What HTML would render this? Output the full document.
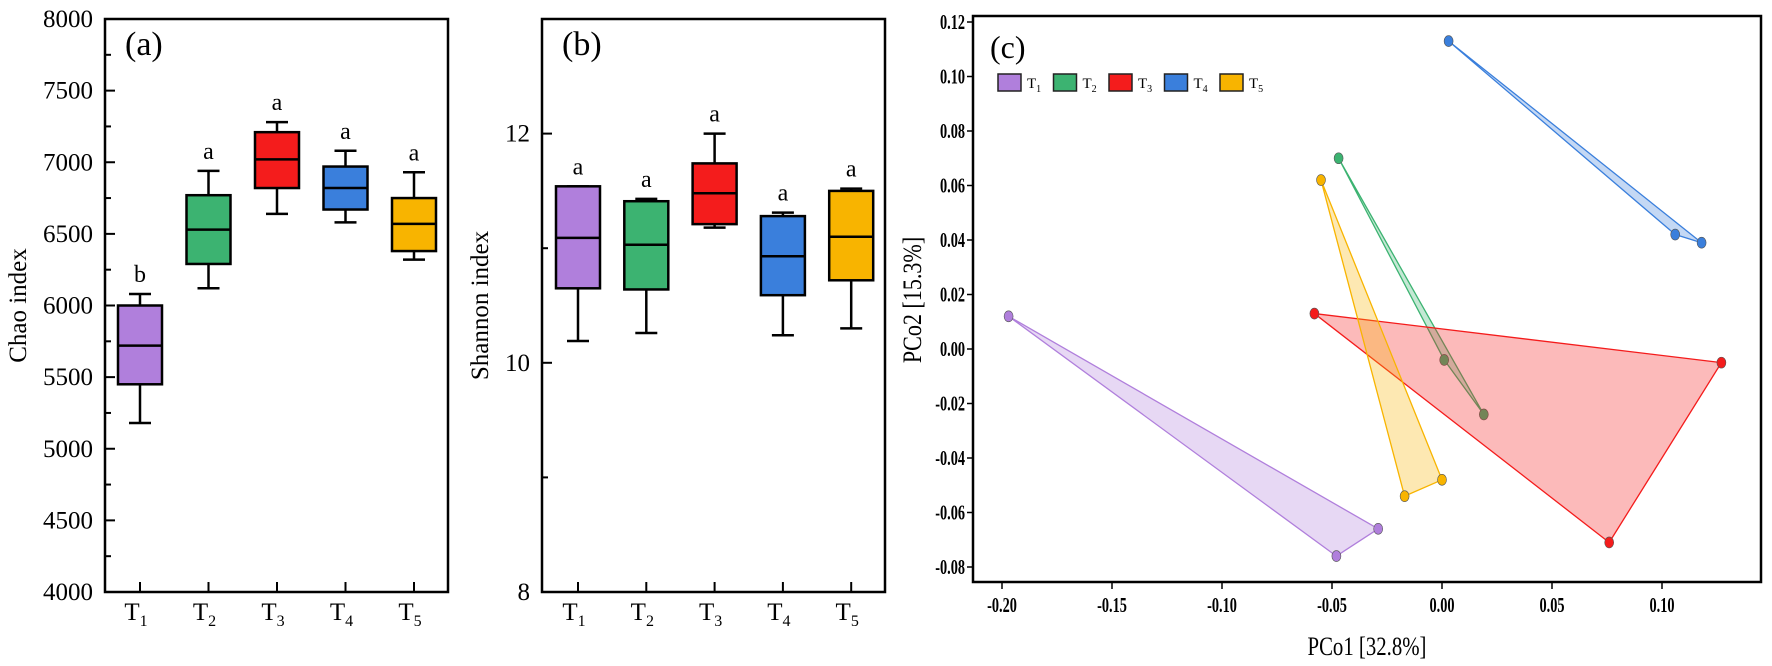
<!DOCTYPE html>
<html><head><meta charset="utf-8"><style>
body{margin:0;background:#fff;}
svg{display:block;font-family:"Liberation Serif",serif;}
</style></head><body>
<svg id="fig" width="1772" height="666" viewBox="0 0 1772 666" xmlns="http://www.w3.org/2000/svg"></svg>
<script>
const groups = ['T1','T2','T3','T4','T5'];
const colors = ['#b07fdc','#3cb371','#f41c1c','#3a7fdc','#f8b400'];
// Panel (a) Chao: [lowWhisker, q1, median, q3, highWhisker]
const chaoLow = [5180,6120,6640,6580,6320];
const chaoQ1 = [5450,6290,6820,6670,6380];
const chaoMed = [5720,6530,7020,6820,6570];
const chaoQ3 = [6000,6770,7210,6970,6750];
const chaoHigh = [6080,6940,7280,7080,6930];
const chaoLetters = ['b','a','a','a','a'];
const chaoTicks = [4000,4500,5000,5500,6000,6500,7000,7500,8000];
// Panel (b) Shannon
const shLow = [10.19,10.26,11.18,10.24,10.30];
const shQ1 = [10.65,10.64,11.21,10.59,10.72];
const shMed = [11.09,11.03,11.48,10.93,11.10];
const shQ3 = [11.54,11.41,11.74,11.28,11.50];
const shHigh = [11.54,11.43,12.00,11.31,11.52];
const shLetters = ['a','a','a','a','a'];
const shTicks = [8,10,12];
// Panel (c) PCoA points per group
const pcoX = [[-0.197,-0.029,-0.048],[-0.047,0.001,0.019],[-0.058,0.127,0.076],[0.003,0.106,0.118],[-0.055,-0.017,0.000]];
const pcoY = [[0.012,-0.066,-0.076],[0.070,-0.004,-0.024],[0.013,-0.005,-0.071],[0.113,0.042,0.039],[0.062,-0.054,-0.048]];
const pcXTicks = [-0.20,-0.15,-0.10,-0.05,0.00,0.05,0.10];
const pcXTickLabels = ['-0.20','-0.15','-0.10','-0.05','0.00','0.05','0.10'];
const pcYTicks = [-0.08,-0.06,-0.04,-0.02,0.00,0.02,0.04,0.06,0.08,0.10,0.12];
const pcYTickLabels = ['-0.08','-0.06','-0.04','-0.02','0.00','0.02','0.04','0.06','0.08','0.10','0.12'];

const NS='http://www.w3.org/2000/svg';
const svg=document.getElementById('fig');
function el(tag,attrs,parent,text){const e=document.createElementNS(NS,tag);for(const k in attrs)e.setAttribute(k,attrs[k]);if(text!==undefined)e.textContent=text;(parent||svg).appendChild(e);return e;}

function boxPanel(o){
  const g=el('g',{});
  
  
  const y=v=>o.y1+(o.vmax-v)/(o.vmax-o.vmin)*(o.y2-o.y1);
  const x=i=>o.cx0+i*o.step;
  const fr=el('rect',{x:o.x1,y:o.y1,width:o.x2-o.x1,height:o.y2-o.y1,fill:'none',stroke:'#000','stroke-width':2.5},g);
  
  
  o.ticks.forEach(t=>{
    el('line',{x1:o.x1,x2:o.x1+10,y1:y(t),y2:y(t),stroke:'#000','stroke-width':2},g);
    const tl=el('text',{x:o.x1-12,y:y(t)+8,'text-anchor':'end','font-size':25},g,String(t));
    
    
  });
  o.minor.forEach(t=>{el('line',{x1:o.x1,x2:o.x1+6,y1:y(t),y2:y(t),stroke:'#000','stroke-width':2},g);});
  groups.forEach((gname,i)=>{
    el('line',{x1:x(i),x2:x(i),y1:o.y2,y2:o.y2-10,stroke:'#000','stroke-width':2},g);
    const tl=el('text',{x:x(i)-4,y:o.y2+28,'text-anchor':'middle','font-size':25},g);
    
    
    el('tspan',{},tl,'T');
    el('tspan',{'font-size':16,dy:6},tl,gname.slice(1));
  });
  const hw=22;
  for(let i=0;i<groups.length;i++){
    const bg=el('g',{},g);
    
    
    const cx=x(i);
    el('line',{x1:cx,x2:cx,y1:y(o.low[i]),y2:y(o.q1[i]),stroke:'#000','stroke-width':2.5},bg);
    el('line',{x1:cx,x2:cx,y1:y(o.high[i]),y2:y(o.q3[i]),stroke:'#000','stroke-width':2.5},bg);
    el('line',{x1:cx-11,x2:cx+11,y1:y(o.low[i]),y2:y(o.low[i]),stroke:'#000','stroke-width':2.5},bg);
    el('line',{x1:cx-11,x2:cx+11,y1:y(o.high[i]),y2:y(o.high[i]),stroke:'#000','stroke-width':2.5},bg);
    el('rect',{x:cx-hw,y:y(o.q3[i]),width:hw*2,height:y(o.q1[i])-y(o.q3[i]),fill:colors[i],stroke:'#000','stroke-width':2.5},bg);
    el('line',{x1:cx-hw,x2:cx+hw,y1:y(o.med[i]),y2:y(o.med[i]),stroke:'#000','stroke-width':2.5},bg);
    const lt=el('text',{x:cx,y:y(o.high[i])-12,'text-anchor':'middle','font-size':24},bg,o.letters[i]);
    
    
  }
  const pl=el('text',{x:o.x1+20,y:o.y1+36,'font-size':34},g,o.label);
  
  
  const yt=el('text',{transform:`translate(${o.ytx},${(o.y1+o.y2)/2}) rotate(-90)`,'text-anchor':'middle','font-size':25},g,o.ytitle);
  
  
}

boxPanel({name:'chao-boxplot',x1:105,x2:448,y1:19,y2:592,vmin:4000,vmax:8000,cx0:140,step:68.5,
  ticks:chaoTicks,minor:[4250,4750,5250,5750,6250,6750,7250,7750],
  low:chaoLow,q1:chaoQ1,med:chaoMed,q3:chaoQ3,high:chaoHigh,letters:chaoLetters,label:'(a)',ytitle:'Chao index',ytx:26});
boxPanel({name:'shannon-boxplot',x1:542,x2:885,y1:19,y2:592,vmin:8,vmax:13,cx0:578,step:68.3,
  ticks:shTicks,minor:[9,11,13],
  low:shLow,q1:shQ1,med:shMed,q3:shQ3,high:shHigh,letters:shLetters,label:'(b)',ytitle:'Shannon index',ytx:488});

(function(){
  const g=el('g',{});
  
  
  const X1=973,X2=1761,Y1=16,Y2=582;
  const sx=v=>1442+v*2200;
  const sy=v=>349-v*2725;
  const fr=el('rect',{x:X1,y:Y1,width:X2-X1,height:Y2-Y1,fill:'none',stroke:'#000','stroke-width':2.5},g);
  
  
  pcXTicks.forEach((t,i)=>{
    el('line',{x1:sx(t),x2:sx(t),y1:Y2,y2:Y2+7,stroke:'#000','stroke-width':1.5},g);
    const tl=el('text',{x:sx(t),y:Y2+30,'text-anchor':'middle','font-size':21,'font-weight':'bold',transform:`translate(${sx(t)},0) scale(0.68,1) translate(${-sx(t)},0)`},g,pcXTickLabels[i]);
    
    
  });
  pcYTicks.forEach((t,i)=>{
    el('line',{x1:X1-6,x2:X1,y1:sy(t),y2:sy(t),stroke:'#000','stroke-width':1.5},g);
    const tl=el('text',{x:X1-8,y:sy(t)+7,'text-anchor':'end','font-size':21,'font-weight':'bold',transform:`translate(${X1-8},0) scale(0.68,1) translate(${-(X1-8)},0)`},g,pcYTickLabels[i]);
    
    
  });
  for(let i=0;i<groups.length;i++){
    const gg=el('g',{},g);
    
    
    const pts=pcoX[i].map((v,j)=>sx(v)+','+sy(pcoY[i][j])).join(' ');
    el('polygon',{points:pts,fill:colors[i],'fill-opacity':0.3,stroke:colors[i],'stroke-width':1.3,'stroke-linejoin':'round'},gg);
    pcoX[i].forEach((v,j)=>{
      const p=el('ellipse',{cx:sx(v),cy:sy(pcoY[i][j]),rx:4.5,ry:5.5,fill:colors[i],stroke:'#555','stroke-width':0.6},gg);
      
      
    });
  }
  const pl=el('text',{x:990,y:58,'font-size':32},g,'(c)');
  
  
  const lg=el('g',{},g);
  
  
  groups.forEach((gn,i)=>{
    const ex=998+i*55.5;
    const le=el('g',{},lg);
    
    
    el('rect',{x:ex,y:74,width:23,height:17,fill:colors[i],stroke:'#222','stroke-width':1.5},le);
    const t=el('text',{x:ex+29,y:88,'font-size':15},le);
    el('tspan',{},t,'T');
    el('tspan',{'font-size':10,dy:4},t,gn.slice(1));
  });
  const xt=el('text',{x:1367,y:655,'text-anchor':'middle','font-size':26,transform:'translate(1367,0) scale(0.8,1) translate(-1367,0)'},g,'PCo1 [32.8%]');
  
  
  const yt=el('text',{transform:'translate(921,300) rotate(-90) scale(0.85,1)','text-anchor':'middle','font-size':26},g,'PCo2 [15.3%]');
  
  
})();
</script>
</body></html>
